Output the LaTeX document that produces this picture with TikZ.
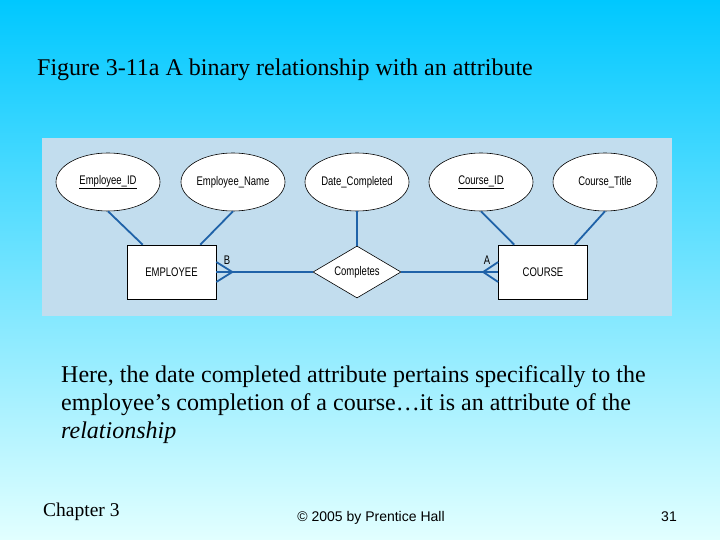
\documentclass[tikz,border=0pt]{standalone}
\usepackage{fontspec}
\setmainfont{Liberation Serif}
\newfontfamily\arialfont{Liberation Sans}
\newfontfamily\narrowfont[FakeStretch=0.76]{Liberation Sans}
\usetikzlibrary{shapes.geometric,calc}
\definecolor{topcyan}{HTML}{00C8FF}
\definecolor{botcyan}{HTML}{E2FFFF}
\definecolor{panel}{HTML}{C2DDEE}
\definecolor{erblue}{HTML}{1F62A8}
\tikzset{
  erfont/.style={font=\narrowfont\fontsize{12.5}{13}\selectfont},
  attr/.style={ellipse,draw=black,fill=white,line width=0.6pt,minimum width=104pt,minimum height=58pt,inner sep=0pt,erfont},
  ent/.style={rectangle,draw=black,fill=white,line width=0.6pt,minimum width=89pt,minimum height=54pt,inner sep=0pt,erfont},
  rel/.style={diamond,draw=black,fill=white,line width=0.6pt,minimum width=88pt,minimum height=52pt,aspect=1.7,inner sep=0pt,erfont},
  erline/.style={draw=erblue,line width=1.8pt},
  card/.style={erfont,inner sep=0pt},
  slidetext/.style={anchor=base west,inner sep=0pt,font=\fontsize{24}{29}\selectfont}
}
\begin{document}
\begin{tikzpicture}[x=1pt,y=-1pt]
\shade[top color=topcyan,bottom color=botcyan] (0,0) rectangle (720,540);
\useasboundingbox (0,0) rectangle (720,540);
\fill[panel] (42,138) rectangle (672,316);

\node[slidetext] (title) at (37,76) {Figure 3-11a A binary relationship with an attribute};

\node[attr] (eid) at (108,182) {\underline{Employee\_ID}};
\node[attr] (ename) at (233,182) {Employee\_Name};
\node[attr] (dc) at (357,182) {Date\_Completed};
\node[attr] (cid) at (481,182) {\underline{Course\_ID}};
\node[attr] (ctitle) at (605,182) {Course\_Title};

\node[ent] (emp) at (171.5,272) {EMPLOYEE};
\node[ent] (course) at (543,272) {COURSE};
\node[rel] (comp) at (357,272) {Completes};

\draw[erline] (eid.south) -- ($(emp.north west)+(16,0)$);
\draw[erline] (ename.south) -- ($(emp.north east)+(-16,0)$);
\draw[erline] (cid.south) -- ($(course.north west)+(16,0)$);
\draw[erline] (ctitle.south) -- ($(course.north east)+(-13,0)$);
\draw[erline] (dc.south) -- (comp.north);
\draw[erline] (emp.east) -- (comp.west);
\draw[erline] (comp.east) -- (course.west);

\coordinate (bf) at ($(emp.east)+(16,0)$);
\coordinate (af) at ($(course.west)+(-15,0)$);
\draw[erline] ($(emp.east)+(0,-10)$) -- (bf) -- ($(emp.east)+(0,10)$);
\draw[erline] ($(course.west)+(0,-10)$) -- (af) -- ($(course.west)+(0,10)$);
\node[card] (lb) at (227,260) {B};
\node[card] (la) at (487,260) {A};

\node[slidetext] (body1) at (61,382) {Here, the date completed attribute pertains specifically to the};
\node[slidetext] (body2) at (61,410) {employee’s completion of a course…it is an attribute of the};
\node[slidetext] (body3) at (61,438) {\itshape relationship};

\node[anchor=base west,inner sep=0pt,font=\fontsize{19.5}{21}\selectfont] (chap) at (43,516) {Chapter 3};
\node[anchor=base,inner sep=0pt,font=\arialfont\fontsize{14}{16}\selectfont] (copy) at (371,521) {© 2005 by Prentice Hall};
\node[anchor=base east,inner sep=0pt,font=\arialfont\fontsize{14}{16}\selectfont] (pg) at (677,521) {31};
\end{tikzpicture}
\end{document}
